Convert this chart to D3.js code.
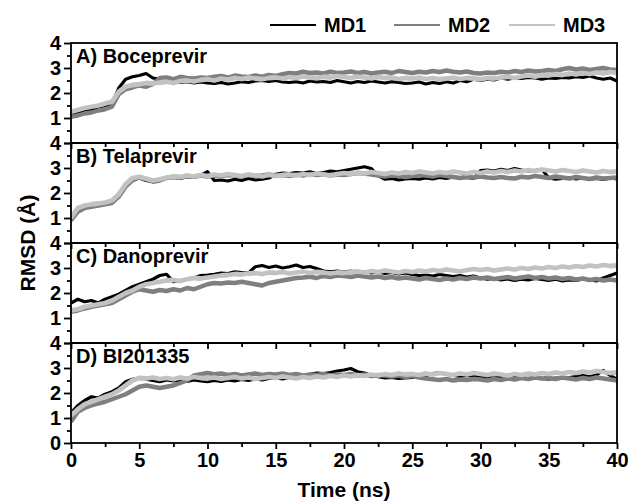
<!DOCTYPE html>
<html>
<head>
<meta charset="utf-8">
<script src="https://cdn.jsdelivr.net/npm/d3@7"></script>
<style>
  body { margin: 0; background: #fff; }
  svg { font-family: "Liberation Sans", Arial, sans-serif; font-weight: bold; }
</style>
</head>
<body>
<svg id="chart"></svg>
<script>
// sampling grid, every 0.5 ns
var time = d3.range(0, 40.5, 0.5);

var panelNames = ["A) Boceprevir", "B) Telaprevir", "C) Danoprevir", "D) BI201335"];
var runNames = ["MD1", "MD2", "MD3"];
var runColors = ["#000000", "#7f7f7f", "#c2c2c2"];

// A) Boceprevir
var bocMD1 = [
  1.15,1.22,1.28,1.33,1.38,1.42,1.55,2.20,2.55,2.65,
  2.70,2.78,2.60,2.55,2.50,2.45,2.42,2.45,2.40,2.44,
  2.40,2.38,2.42,2.36,2.40,2.45,2.42,2.48,2.50,2.46,
  2.50,2.44,2.42,2.45,2.40,2.48,2.44,2.46,2.42,2.50,
  2.45,2.40,2.46,2.42,2.48,2.44,2.40,2.45,2.42,2.38,
  2.40,2.44,2.36,2.42,2.38,2.45,2.40,2.50,2.45,2.55,
  2.50,2.55,2.52,2.60,2.55,2.60,2.58,2.62,2.60,2.55,
  2.60,2.58,2.62,2.60,2.65,2.62,2.68,2.60,2.55,2.60,
  2.48];
var bocMD2 = [
  1.05,1.10,1.18,1.22,1.30,1.35,1.45,1.95,2.15,2.22,
  2.30,2.25,2.35,2.60,2.62,2.55,2.65,2.60,2.58,2.62,
  2.60,2.65,2.68,2.62,2.70,2.66,2.64,2.70,2.65,2.72,
  2.68,2.75,2.80,2.78,2.85,2.80,2.82,2.78,2.85,2.80,
  2.82,2.86,2.80,2.84,2.78,2.82,2.85,2.80,2.88,2.84,
  2.80,2.85,2.82,2.88,2.84,2.90,2.85,2.82,2.86,2.80,
  2.78,2.82,2.80,2.85,2.82,2.88,2.84,2.90,2.86,2.88,
  2.92,2.88,2.95,3.00,2.94,2.98,2.92,2.96,3.00,2.94,
  2.92];
var bocMD3 = [
  1.25,1.32,1.40,1.45,1.50,1.58,1.65,2.05,2.25,2.32,
  2.35,2.40,2.38,2.42,2.45,2.40,2.48,2.50,2.46,2.52,
  2.55,2.50,2.58,2.54,2.60,2.56,2.62,2.58,2.55,2.60,
  2.62,2.58,2.64,2.60,2.66,2.62,2.60,2.65,2.62,2.68,
  2.64,2.60,2.66,2.62,2.58,2.64,2.60,2.62,2.56,2.60,
  2.58,2.62,2.56,2.60,2.55,2.58,2.62,2.56,2.60,2.58,
  2.55,2.60,2.58,2.62,2.65,2.60,2.66,2.70,2.65,2.72,
  2.70,2.75,2.72,2.78,2.74,2.80,2.76,2.82,2.78,2.84,
  2.80];

// B) Telaprevir
var telMD1 = [
  0.95,1.35,1.45,1.50,1.55,1.58,1.62,1.90,2.30,2.55,
  2.60,2.50,2.45,2.55,2.60,2.62,2.58,2.65,2.62,2.70,
  2.85,2.50,2.52,2.48,2.55,2.50,2.58,2.52,2.55,2.60,
  2.75,2.80,2.78,2.82,2.80,2.85,2.78,2.82,2.88,2.85,
  2.90,2.95,3.00,3.05,2.98,2.70,2.55,2.58,2.52,2.56,
  2.58,2.55,2.60,2.56,2.62,2.58,2.64,2.60,2.62,2.58,
  2.90,2.92,2.88,2.95,2.90,2.98,2.92,2.88,2.90,2.95,
  2.60,2.55,2.58,2.62,2.56,2.60,2.55,2.58,2.54,2.60,
  2.56];
var telMD2 = [
  0.90,1.25,1.40,1.45,1.50,1.55,1.60,1.85,2.25,2.50,
  2.62,2.55,2.45,2.50,2.60,2.65,2.62,2.68,2.65,2.70,
  2.66,2.70,2.68,2.72,2.70,2.66,2.72,2.68,2.70,2.74,
  2.70,2.72,2.68,2.74,2.70,2.76,2.72,2.75,2.70,2.74,
  2.72,2.76,2.80,2.78,2.74,2.70,2.66,2.70,2.68,2.64,
  2.68,2.72,2.70,2.66,2.72,2.68,2.64,2.60,2.65,2.62,
  2.66,2.62,2.60,2.64,2.60,2.58,2.65,2.62,2.68,2.64,
  2.60,2.66,2.62,2.58,2.64,2.60,2.56,2.62,2.58,2.60,
  2.62];
var telMD3 = [
  1.00,1.40,1.50,1.55,1.58,1.62,1.70,1.95,2.35,2.60,
  2.65,2.58,2.50,2.55,2.62,2.66,2.64,2.70,2.66,2.72,
  2.68,2.74,2.70,2.76,2.72,2.68,2.74,2.70,2.66,2.72,
  2.68,2.72,2.74,2.70,2.76,2.72,2.78,2.74,2.70,2.76,
  2.80,2.76,2.82,2.78,2.84,2.80,2.76,2.82,2.78,2.84,
  2.80,2.86,2.82,2.78,2.84,2.80,2.86,2.82,2.78,2.84,
  2.80,2.86,2.82,2.88,2.84,2.90,2.86,2.92,2.88,2.94,
  2.90,2.86,2.92,2.88,2.84,2.90,2.86,2.82,2.88,2.84,
  2.86];

// C) Danoprevir
var danMD1 = [
  1.60,1.75,1.65,1.70,1.60,1.75,1.85,1.95,2.10,2.25,
  2.35,2.45,2.55,2.70,2.75,2.45,2.50,2.55,2.60,2.70,
  2.72,2.75,2.80,2.78,2.85,2.82,2.80,3.05,3.10,3.02,
  3.08,3.00,3.05,3.12,3.02,3.06,2.98,2.88,2.85,2.88,
  2.84,2.88,2.82,2.86,2.80,2.84,2.78,2.82,2.76,2.80,
  2.74,2.70,2.72,2.68,2.74,2.70,2.66,2.70,2.64,2.68,
  2.60,2.55,2.58,2.52,2.56,2.50,2.55,2.52,2.58,2.54,
  2.50,2.55,2.48,2.52,2.50,2.56,2.52,2.48,2.60,2.70,
  2.80];
var danMD2 = [
  1.25,1.30,1.38,1.45,1.50,1.55,1.60,1.75,1.90,2.05,
  2.15,2.10,2.05,2.12,2.08,2.15,2.10,2.20,2.15,2.25,
  2.35,2.40,2.38,2.42,2.40,2.45,2.40,2.35,2.30,2.40,
  2.45,2.50,2.55,2.60,2.62,2.65,2.60,2.68,2.64,2.70,
  2.68,2.64,2.70,2.66,2.62,2.66,2.60,2.64,2.58,2.62,
  2.58,2.54,2.60,2.56,2.52,2.58,2.54,2.60,2.56,2.62,
  2.58,2.62,2.56,2.60,2.64,2.58,2.62,2.66,2.60,2.64,
  2.58,2.62,2.56,2.60,2.54,2.58,2.52,2.56,2.50,2.54,
  2.50];
var danMD3 = [
  1.30,1.35,1.45,1.50,1.55,1.60,1.70,1.85,2.00,2.10,
  2.25,2.35,2.40,2.45,2.50,2.52,2.48,2.55,2.60,2.58,
  2.62,2.66,2.70,2.72,2.76,2.74,2.78,2.80,2.76,2.82,
  2.80,2.84,2.78,2.82,2.86,2.80,2.84,2.82,2.78,2.82,
  2.80,2.84,2.86,2.82,2.88,2.84,2.90,2.86,2.82,2.88,
  2.84,2.90,2.86,2.92,2.88,2.94,2.90,2.86,2.92,2.96,
  2.92,2.96,2.90,2.94,2.98,2.94,3.00,2.96,3.02,2.98,
  3.04,3.00,3.06,3.02,3.08,3.04,3.10,3.06,3.12,3.08,
  3.10];

// D) BI201335
var biMD1 = [
  1.20,1.50,1.70,1.85,1.80,1.95,2.05,2.20,2.45,2.55,
  2.60,2.55,2.50,2.45,2.52,2.48,2.50,2.46,2.52,2.48,
  2.45,2.50,2.46,2.52,2.48,2.54,2.50,2.56,2.52,2.58,
  2.60,2.56,2.62,2.66,2.70,2.75,2.80,2.78,2.82,2.88,
  2.92,2.98,2.85,2.80,2.70,2.65,2.60,2.62,2.58,2.60,
  2.62,2.66,2.70,2.78,2.82,2.75,2.70,2.66,2.70,2.68,
  2.65,2.62,2.60,2.64,2.58,2.62,2.60,2.56,2.60,2.58,
  2.55,2.60,2.58,2.62,2.66,2.70,2.65,2.72,2.90,2.70,
  2.55];
var biMD2 = [
  0.85,1.25,1.40,1.50,1.58,1.65,1.75,1.85,1.95,2.10,
  2.25,2.30,2.25,2.20,2.25,2.30,2.40,2.50,2.70,2.75,
  2.80,2.75,2.78,2.72,2.76,2.70,2.74,2.78,2.72,2.76,
  2.74,2.78,2.72,2.76,2.70,2.74,2.72,2.76,2.70,2.74,
  2.72,2.76,2.70,2.74,2.68,2.72,2.70,2.66,2.70,2.64,
  2.68,2.62,2.58,2.55,2.52,2.56,2.50,2.54,2.52,2.56,
  2.54,2.50,2.56,2.52,2.58,2.54,2.60,2.56,2.62,2.58,
  2.60,2.56,2.62,2.58,2.54,2.60,2.56,2.62,2.58,2.54,
  2.50];
var biMD3 = [
  1.10,1.35,1.55,1.65,1.75,1.85,1.95,2.10,2.30,2.50,
  2.60,2.58,2.62,2.56,2.60,2.55,2.62,2.58,2.64,2.60,
  2.58,2.62,2.56,2.60,2.64,2.58,2.62,2.56,2.60,2.64,
  2.60,2.66,2.62,2.58,2.64,2.60,2.66,2.62,2.68,2.64,
  2.70,2.66,2.72,2.68,2.74,2.70,2.76,2.72,2.78,2.74,
  2.76,2.72,2.78,2.74,2.80,2.76,2.72,2.78,2.74,2.80,
  2.76,2.72,2.78,2.74,2.70,2.76,2.72,2.78,2.74,2.80,
  2.76,2.82,2.78,2.84,2.80,2.86,2.82,2.88,2.84,2.80,
  2.82];

var panelSeries = [
  [bocMD1, bocMD2, bocMD3],
  [telMD1, telMD2, telMD3],
  [danMD1, danMD2, danMD3],
  [biMD1, biMD2, biMD3]
];

var dimensions = {
  width: 632,
  height: 504,
  panelHeight: 100,
  margin: { top: 43, right: 15, bottom: 61, left: 71 }
};

var svg = d3.select("#chart")
  .attr("width", dimensions.width)
  .attr("height", dimensions.height);

var xScale = d3.scaleLinear()
  .domain([0, 40])
  .range([dimensions.margin.left, dimensions.width - dimensions.margin.right]);

var plotW = xScale.range()[1] - xScale.range()[0];
var lineWidths = [3.2, 4.4, 4.8];

panelSeries.forEach(function(series, p) {
  var top = dimensions.margin.top + p * dimensions.panelHeight;
  var bottom = top + dimensions.panelHeight;
  var last = p == panelSeries.length - 1;

  var yScale = d3.scaleLinear()
    .domain([0, 4])
    .range([bottom, top]);

  var g = svg.append("g");

  var clipId = "clip" + p;
  g.append("clipPath").attr("id", clipId)
    .append("rect")
    .attr("x", xScale(0)).attr("y", top)
    .attr("width", plotW).attr("height", dimensions.panelHeight);

  var line = d3.line()
    .x(function(d, i) { return xScale(time[i]); })
    .y(function(d) { return yScale(d); });

  series.forEach(function(values, s) {
    g.append("path")
      .datum(values)
      .attr("clip-path", "url(#" + clipId + ")")
      .attr("fill", "none")
      .attr("stroke", runColors[s])
      .attr("stroke-width", lineWidths[s])
      .attr("stroke-linejoin", "round")
      .attr("d", line);
  });

  // frame
  g.append("rect")
    .attr("x", xScale(0)).attr("y", top)
    .attr("width", plotW).attr("height", dimensions.panelHeight)
    .attr("fill", "none")
    .attr("stroke", "#000")
    .attr("stroke-width", 1.8);

  // left axis: major ticks with labels, minor ticks between
  var yLabels = last ? [0, 1, 2, 3, 4] : [1, 2, 3, 4];
  var yAxis = g.append("g")
    .attr("transform", "translate(" + xScale(0) + ",0)");
  yAxis.call(d3.axisLeft(yScale).tickValues([0, 1, 2, 3, 4]).tickSize(7).tickPadding(3)
      .tickFormat(function(d) { return yLabels.indexOf(d) >= 0 ? d : ""; }));
  yAxis.append("g")
    .call(d3.axisLeft(yScale).tickValues([0.5, 1.5, 2.5, 3.5]).tickSize(4).tickFormat(""));

  // bottom axis
  var xAxis = g.append("g")
    .attr("transform", "translate(0," + bottom + ")");
  xAxis.call(d3.axisBottom(xScale).tickValues(d3.range(0, 41, 5)).tickSize(6).tickPadding(4)
      .tickFormat(function(d) { return last ? d : ""; }));
  xAxis.append("g")
    .call(d3.axisBottom(xScale).tickValues(d3.range(2.5, 40, 5)).tickSize(4).tickFormat(""));

  g.selectAll(".domain").remove();
  g.selectAll(".tick line").attr("stroke", "#000").attr("stroke-width", 1.8);
  g.selectAll(".tick text")
    .attr("fill", "#000")
    .style("font-size", "20px")
    .style("font-weight", "bold")
    .style("font-family", "'Liberation Sans', Arial, sans-serif");

  g.append("text")
    .attr("x", xScale(0) + 5)
    .attr("y", top + 20)
    .style("font-size", "20px")
    .text(panelNames[p]);
});

// axis titles
svg.append("text")
  .attr("x", (xScale.range()[0] + xScale.range()[1]) / 2)
  .attr("y", dimensions.height - 7)
  .style("text-anchor", "middle")
  .style("font-size", "21px")
  .text("Time (ns)");

var midY = dimensions.margin.top + 2 * dimensions.panelHeight;
svg.append("text")
  .attr("transform", "translate(35," + midY + ")rotate(-90)")
  .style("text-anchor", "middle")
  .style("font-size", "21px")
  .text("RMSD (Å)");

// legend
var legendX = [270, 394, 509];
var legend = svg.append("g");
runNames.forEach(function(name, i) {
  legend.append("line")
    .attr("x1", legendX[i]).attr("x2", legendX[i] + 46)
    .attr("y1", 25).attr("y2", 25)
    .attr("stroke", runColors[i])
    .attr("stroke-width", 2);
  legend.append("text")
    .attr("x", legendX[i] + 54)
    .attr("y", 32)
    .style("font-size", "20px")
    .text(name);
});
</script>
</body>
</html>
